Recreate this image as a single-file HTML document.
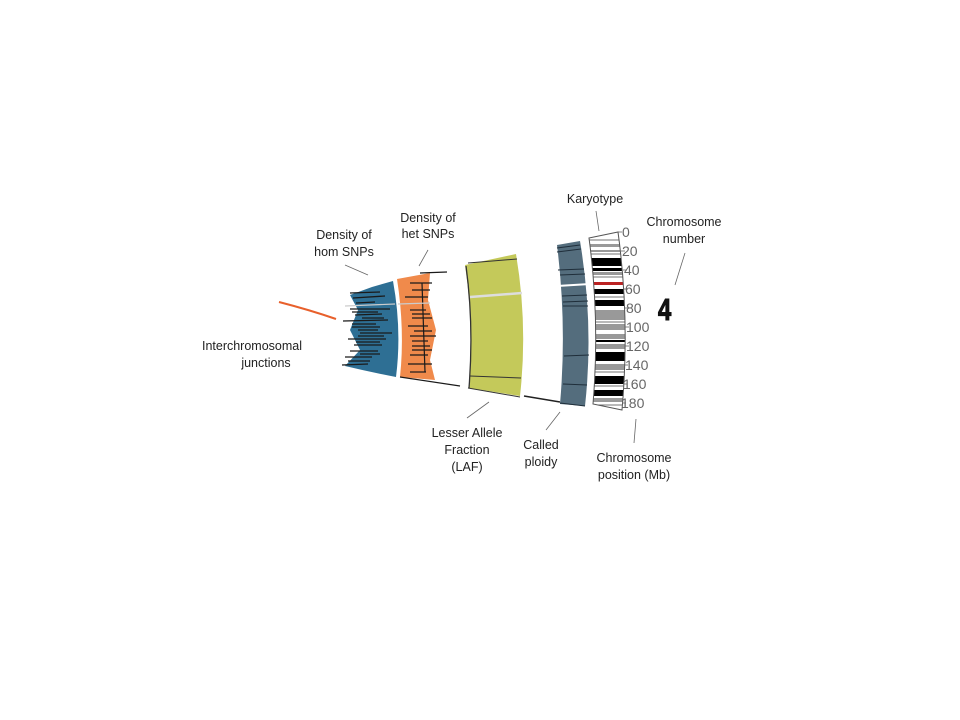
<!DOCTYPE html>
<html><head><meta charset="utf-8"><style>
html,body{margin:0;padding:0;background:#fff;}
svg{display:block;}
text{font-family:"Liberation Sans",sans-serif;}
</style></head><body>
<svg width="960" height="720" viewBox="0 0 960 720" xmlns="http://www.w3.org/2000/svg">
<defs>
<clipPath id="kc"><path d="M589,238 L618,232 Q630,320 622,410 L593,404 Q600,320 589,238 Z"/></clipPath>
</defs>
<path d="M279,302 Q310,310 336,319" stroke="#e8602c" stroke-width="2" fill="none"/>
<path d="M372,287 L393,281 Q402,330 396,377 Q370,372 345,366 L360,350 L350,330 L358,310 L350,295 Z" fill="#2e6f94"/>
<g stroke="#1a1a1a" stroke-width="1.3">
<line x1="350" y1="293" x2="380" y2="292"/><line x1="353" y1="298" x2="385" y2="296"/><line x1="356" y1="303" x2="375" y2="302"/>
<line x1="350" y1="309" x2="390" y2="309"/><line x1="355" y1="315" x2="382" y2="314"/><line x1="343" y1="321" x2="388" y2="320"/>
<line x1="352" y1="327" x2="380" y2="327"/><line x1="360" y1="333" x2="392" y2="333"/><line x1="348" y1="339" x2="386" y2="339"/>
<line x1="354" y1="345" x2="382" y2="345"/><line x1="350" y1="351" x2="378" y2="351"/><line x1="345" y1="357" x2="372" y2="357"/>
<line x1="342" y1="365" x2="368" y2="364"/><line x1="358" y1="330" x2="378" y2="330"/><line x1="362" y1="318" x2="384" y2="318"/>
<line x1="352" y1="324" x2="376" y2="324"/><line x1="358" y1="336" x2="384" y2="336"/><line x1="356" y1="342" x2="380" y2="342"/>
<line x1="360" y1="354" x2="380" y2="354"/><line x1="348" y1="361" x2="370" y2="361"/><line x1="352" y1="312" x2="378" y2="312"/>
</g>
<line x1="345" y1="306" x2="395" y2="304" stroke="#ccc" stroke-width="1.2"/>
<path d="M397,279 L430,273 L428,300 L436,330 L430,360 L435,380 L400,377 Q405,330 397,279 Z" fill="#f08a4b"/>
<g stroke="#1a1a1a" stroke-width="1.2">
<line x1="420" y1="273" x2="447" y2="272"/><line x1="410" y1="283" x2="432" y2="283"/><line x1="412" y1="290" x2="430" y2="290"/>
<line x1="405" y1="297" x2="428" y2="297"/><line x1="410" y1="310" x2="426" y2="310"/><line x1="412" y1="318" x2="432" y2="318"/>
<line x1="408" y1="326" x2="428" y2="326"/><line x1="410" y1="336" x2="436" y2="336"/><line x1="412" y1="346" x2="430" y2="346"/>
<line x1="410" y1="355" x2="428" y2="355"/><line x1="408" y1="364" x2="432" y2="364"/><line x1="410" y1="372" x2="426" y2="372"/>
<line x1="400" y1="377" x2="460" y2="386"/><line x1="422" y1="283" x2="425" y2="372"/>
<line x1="412" y1="314" x2="430" y2="314"/><line x1="414" y1="331" x2="432" y2="331"/><line x1="412" y1="341" x2="428" y2="341"/><line x1="412" y1="350" x2="432" y2="350"/>
</g>
<line x1="398" y1="304" x2="430" y2="303" stroke="#ccc" stroke-width="1.2"/>
<path d="M465,265 L516,254 Q528,325 520,396 L469,388 Q474,325 465,265 Z" fill="#c4c95a"/>
<line x1="468" y1="263" x2="517" y2="259" stroke="#333" stroke-width="1"/>
<line x1="470" y1="297" x2="522" y2="293" stroke="#ddd" stroke-width="2.5"/>
<line x1="470" y1="376" x2="521" y2="378" stroke="#333" stroke-width="1"/>
<line x1="468" y1="388" x2="520" y2="397" stroke="#333" stroke-width="1"/>
<path d="M466,266 Q474,325 469,388" stroke="#333" stroke-width="1.3" fill="none"/>
<line x1="524" y1="396" x2="560" y2="402" stroke="#222" stroke-width="1.5"/>
<path d="M557,245 L580,241 Q594,325 585,406 L560,404 Q567,325 557,245 Z" fill="#546d7d"/>
<line x1="557" y1="286" x2="590" y2="284" stroke="#fff" stroke-width="2"/>
<g stroke="#1f2e3a" stroke-width="1">
<line x1="557" y1="248" x2="580" y2="245"/><line x1="557" y1="252" x2="581" y2="249"/><line x1="558" y1="270" x2="584" y2="269"/>
<line x1="560" y1="275" x2="585" y2="274"/><line x1="562" y1="296" x2="587" y2="295"/><line x1="563" y1="302" x2="588" y2="301"/>
<line x1="563" y1="306" x2="588" y2="306"/><line x1="564" y1="356" x2="589" y2="355"/><line x1="563" y1="384" x2="587" y2="385"/>
<line x1="560" y1="403" x2="585" y2="406"/>
</g>
<g clip-path="url(#kc)">
<rect x="585" y="230" width="50" height="185" fill="#fff"/>
<g fill="#000">
<rect x="585" y="258" width="50" height="8"/><rect x="585" y="289" width="50" height="5"/><rect x="585" y="300" width="50" height="6"/>
<rect x="585" y="352" width="50" height="9"/><rect x="585" y="376" width="50" height="8"/><rect x="585" y="390" width="50" height="6"/>
<rect x="585" y="268" width="50" height="3"/><rect x="585" y="340" width="50" height="2"/>
</g>
<g fill="#999">
<rect x="585" y="244" width="50" height="3"/><rect x="585" y="272" width="50" height="3"/><rect x="585" y="310" width="50" height="10"/>
<rect x="585" y="324" width="50" height="6"/><rect x="585" y="334" width="50" height="5"/><rect x="585" y="344" width="50" height="5"/>
<rect x="585" y="364" width="50" height="6"/><rect x="585" y="398" width="50" height="4"/><rect x="585" y="250" width="50" height="2"/>
</g>
<rect x="585" y="282" width="50" height="3" fill="#b22"/>
<g stroke="#444" stroke-width="0.7">
<line x1="585" y1="240" x2="635" y2="240"/><line x1="585" y1="254" x2="635" y2="254"/>
<line x1="585" y1="277" x2="635" y2="277"/><line x1="585" y1="297" x2="635" y2="297"/><line x1="585" y1="322" x2="635" y2="322"/>
<line x1="585" y1="372" x2="635" y2="372"/><line x1="585" y1="386" x2="635" y2="386"/><line x1="585" y1="405" x2="635" y2="405"/>
</g>
</g>
<path d="M589,238 L618,232 Q630,320 622,410 L593,404 Q600,320 589,238 Z" fill="none" stroke="#555" stroke-width="1"/>
<g stroke="#666" stroke-width="0.8">
<line x1="618" y1="232" x2="622" y2="232"/><line x1="621" y1="251" x2="625" y2="251"/><line x1="623" y1="270" x2="627" y2="270"/>
<line x1="624" y1="289" x2="628" y2="289"/><line x1="625" y1="308" x2="629" y2="308"/><line x1="625" y1="327" x2="629" y2="327"/>
<line x1="625" y1="346" x2="629" y2="346"/><line x1="624" y1="365" x2="628" y2="365"/><line x1="623" y1="384" x2="627" y2="384"/><line x1="622" y1="403" x2="626" y2="403"/>
</g>
<g font-size="14" fill="#666">
<text x="622" y="237">0</text><text x="622" y="256">20</text><text x="624" y="275">40</text><text x="625" y="294">60</text>
<text x="626" y="313">80</text><text x="626" y="332">100</text><text x="626" y="351">120</text><text x="625" y="370">140</text>
<text x="623" y="389">160</text><text x="621" y="408">180</text>
</g>
<text transform="translate(658,320) scale(0.85,1.1)" font-family="Liberation Sans" font-size="28" font-weight="700" fill="#111" stroke="#111" stroke-width="1">4</text>
<g stroke="#666" stroke-width="0.8">
<line x1="596" y1="211" x2="599" y2="231"/><line x1="685" y1="253" x2="675" y2="285"/>
<line x1="428" y1="250" x2="419" y2="266"/><line x1="345" y1="265" x2="368" y2="275"/>
<line x1="489" y1="402" x2="467" y2="418"/><line x1="560" y1="412" x2="546" y2="430"/>
<line x1="636" y1="419" x2="634" y2="443"/>
</g>
<g font-size="12.5" fill="#222" text-anchor="middle">
<text x="595" y="203">Karyotype</text>
<text x="684" y="226">Chromosome</text><text x="684" y="243">number</text>
<text x="428" y="222">Density of</text><text x="428" y="238">het SNPs</text>
<text x="344" y="239">Density of</text><text x="344" y="256">hom SNPs</text>
<text x="252" y="350">Interchromosomal</text><text x="266" y="367">junctions</text>
<text x="467" y="437">Lesser Allele</text><text x="467" y="454">Fraction</text><text x="467" y="471">(LAF)</text>
<text x="541" y="449">Called</text><text x="541" y="466">ploidy</text>
<text x="634" y="462">Chromosome</text><text x="634" y="479">position (Mb)</text>
</g>
</svg>
</body></html>
